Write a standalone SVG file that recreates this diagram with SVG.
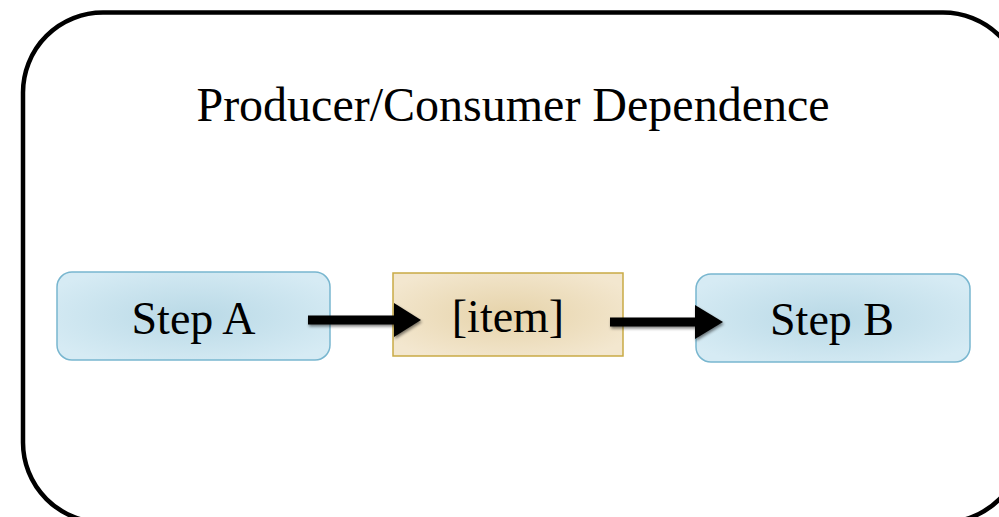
<svg xmlns="http://www.w3.org/2000/svg" width="999" height="517" viewBox="0 0 999 517">
<defs>
<radialGradient id="gBlue" cx="50%" cy="50%" r="60%">
<stop offset="0" stop-color="#b9d9e6"/>
<stop offset="1" stop-color="#d6ebf4"/>
</radialGradient>
<radialGradient id="gTan" cx="50%" cy="50%" r="60%">
<stop offset="0" stop-color="#e6d3aa"/>
<stop offset="1" stop-color="#f3e7cf"/>
</radialGradient>
<filter id="shadow" x="-20%" y="-50%" width="140%" height="200%">
<feGaussianBlur in="SourceAlpha" stdDeviation="1.5"/>
<feOffset dx="1" dy="2" result="b"/>
<feComponentTransfer><feFuncA type="linear" slope="0.5"/></feComponentTransfer>
<feMerge><feMergeNode/><feMergeNode in="SourceGraphic"/></feMerge>
</filter>
</defs>
<style>
text{font-family:"Liberation Serif","Times New Roman",serif;fill:#000;text-anchor:middle}
.step{fill:url(#gBlue);stroke:#78b6cf;stroke-width:1.5}
.item{fill:url(#gTan);stroke:#c9aa45;stroke-width:1.5}
</style>
<rect x="23" y="12.5" width="1000" height="510" rx="80" ry="80" fill="#fff" stroke="#000" stroke-width="4.5"/>
<text x="513" y="121" font-size="48">Producer/Consumer Dependence</text>
<g id="stepA">
<rect class="step" x="57" y="272" width="273" height="88" rx="15"/>
<text x="193.5" y="334" font-size="46">Step A</text>
</g>
<g id="item">
<rect class="item" x="393" y="273" width="230" height="83"/>
<text x="508" y="332" font-size="46">[item]</text>
</g>
<g id="stepB">
<rect class="step" x="696" y="274" width="274" height="88" rx="15"/>
<text x="832" y="335" font-size="46">Step B</text>
</g>
<g id="connectors" filter="url(#shadow)">
<line x1="308" y1="320" x2="400" y2="320" stroke="#000" stroke-width="9"/>
<path d="M394,303 L421,320 L394,337 z" fill="#000"/>
<line x1="610" y1="322" x2="700" y2="322" stroke="#000" stroke-width="9"/>
<path d="M695,305 L723,322 L695,339 z" fill="#000"/>
</g>
</svg>
